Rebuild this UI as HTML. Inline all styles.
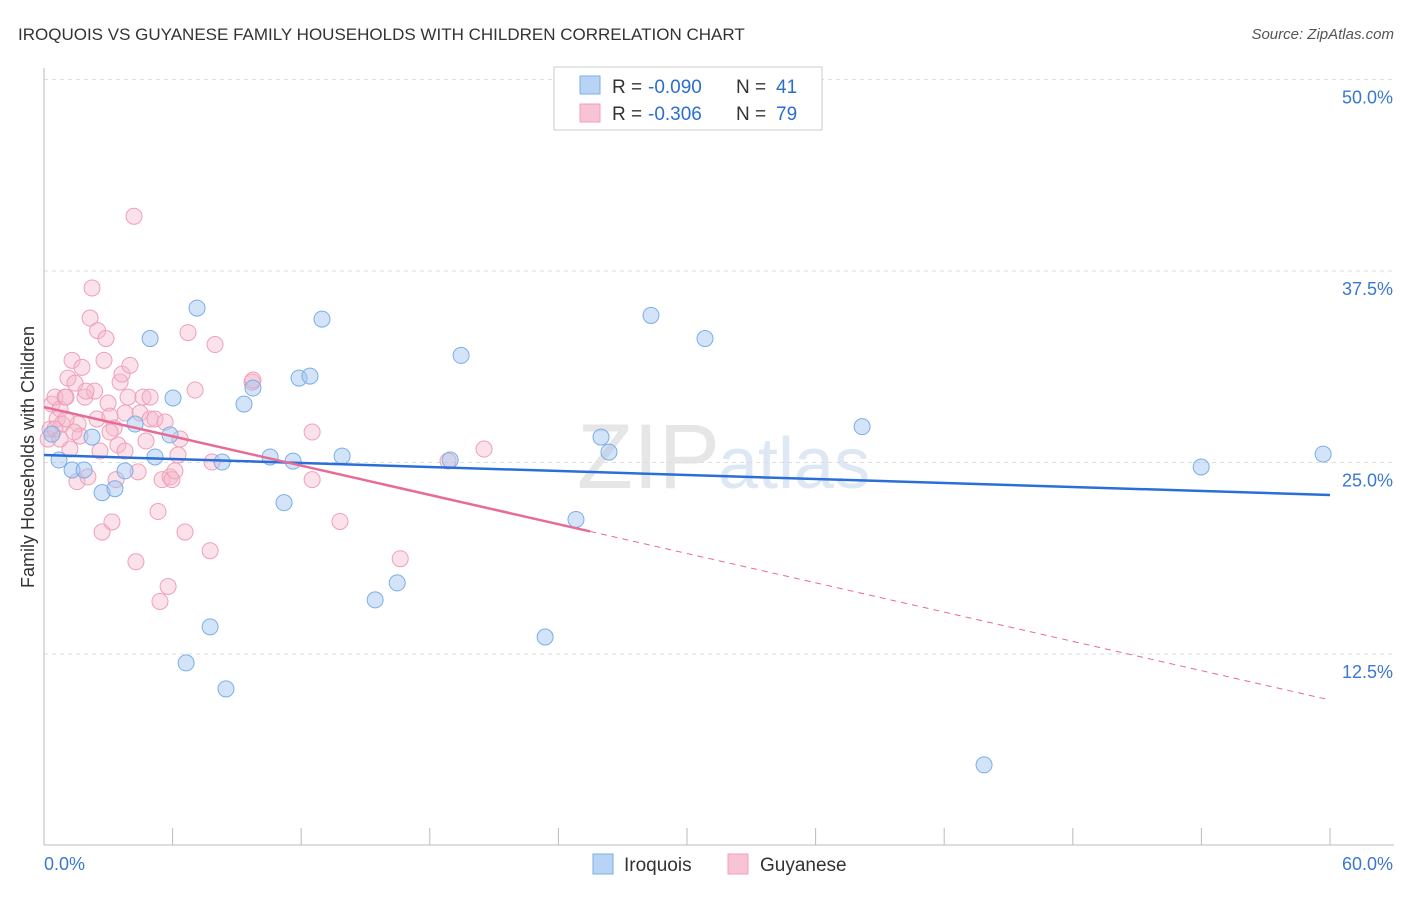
<!DOCTYPE html>
<html><head><meta charset="utf-8"><style>
body{margin:0;background:#fff;font-family:"Liberation Sans",sans-serif;}
svg text{font-family:"Liberation Sans",sans-serif;}
</style></head><body>
<svg id="chart" width="1406" height="892">
<text x="18" y="40" font-size="17" fill="#333">IROQUOIS VS GUYANESE FAMILY HOUSEHOLDS WITH CHILDREN CORRELATION CHART</text>
<text x="1394" y="39" font-size="15" fill="#555" text-anchor="end" font-style="italic">Source: ZipAtlas.com</text>
<text x="720" y="488" font-size="92" fill="#e6e6e6" text-anchor="end" font-family="Liberation Serif">ZIP</text>
<text x="718" y="488" font-size="72" fill="#dde8f4">atlas</text>
<text transform="translate(34,457) rotate(-90)" font-size="18" fill="#333" text-anchor="middle">Family Households with Children</text>
<g id="grid"></g><g id="pts"></g><g id="trend"></g>
<g>
<rect x="554" y="67" width="268" height="63" fill="#fff" stroke="#ccc"/>
<rect x="580" y="76" width="20" height="18" fill="#b8d4f4" stroke="#7aaee8"/>
<rect x="580" y="104" width="20" height="18" fill="#f8c4d4" stroke="#eea0b8"/>
<text x="612" y="93" font-size="19" fill="#333">R =</text>
<text x="648" y="93" font-size="19" fill="#2a6fd0">-0.090</text>
<text x="736" y="93" font-size="19" fill="#333">N =</text>
<text x="776" y="93" font-size="19" fill="#2a6fd0">41</text>
<text x="612" y="120" font-size="19" fill="#333">R =</text>
<text x="648" y="120" font-size="19" fill="#2a6fd0">-0.306</text>
<text x="736" y="120" font-size="19" fill="#333">N =</text>
<text x="776" y="120" font-size="19" fill="#2a6fd0">79</text>
</g>
<g>
<rect x="593" y="854" width="20" height="20" fill="#b8d4f4" stroke="#7aaee8"/>
<text x="624" y="871" font-size="19" fill="#333">Iroquois</text>
<rect x="728" y="854" width="20" height="20" fill="#f8c4d4" stroke="#eea0b8"/>
<text x="760" y="871" font-size="19" fill="#333">Guyanese</text>
</g>
</svg>
<script>
const yTicks=[12.5,25,37.5,50];
const yTickLabels=["12.5%","25.0%","37.5%","50.0%"];
const xTicks=[0,6,12,18,24,30,36,42,48,54,60];
const iroqX=[0.37,0.7,1.31,1.87,2.24,2.71,3.31,3.78,4.25,4.95,5.18,5.88,6.02,6.63,7.14,7.75,8.31,8.49,9.33,9.75,10.55,11.2,11.62,11.9,12.41,12.97,13.91,15.45,16.48,18.95,19.46,23.38,24.82,25.99,26.36,28.32,30.84,38.17,43.86,53.99,59.68];
const iroqY=[26.85,25.16,24.51,24.51,26.66,23.03,23.29,24.45,27.51,33.09,25.36,26.8,29.21,11.92,35.08,14.27,25.03,10.22,28.81,29.86,25.36,22.38,25.09,30.51,30.64,34.36,25.42,16.03,17.14,25.16,31.99,13.61,21.28,26.66,25.68,34.6,33.09,27.34,5.26,24.71,25.55];
const guyX=[0.19,0.28,0.37,0.51,0.61,0.75,0.84,0.98,1.12,1.21,1.31,1.45,1.54,1.59,1.68,1.77,1.91,2.05,2.15,2.24,2.36,2.47,2.5,2.61,2.71,2.8,2.89,2.99,3.08,3.17,3.27,3.36,3.45,3.55,3.64,3.78,3.92,4.01,4.2,4.29,4.39,4.48,4.62,4.76,4.95,5.18,5.32,5.41,5.51,5.65,5.79,5.88,5.97,6.11,6.25,6.35,6.58,6.72,7.05,7.75,7.84,7.98,9.71,9.75,12.51,12.51,13.81,16.62,18.85,20.53,0.51,0.75,1.03,1.40,1.96,3.08,3.78,4.95,1.03];
const guyY=[26.53,27.18,28.81,29.27,27.84,28.49,27.51,29.27,30.51,25.88,31.67,30.18,23.75,27.51,26.73,31.21,29.27,24.06,34.43,36.39,29.66,27.84,33.61,25.75,20.46,31.67,33.09,28.88,28.03,21.12,27.25,23.88,26.14,30.25,30.77,25.75,29.27,31.34,41.07,18.52,24.39,28.23,29.27,26.4,27.84,27.84,21.8,15.93,23.88,27.64,16.91,24.06,23.88,24.45,25.49,26.53,20.46,33.48,29.73,19.24,25.03,32.7,30.25,30.38,26.99,23.88,21.15,18.72,25.1,25.88,27.19,26.53,27.84,26.99,29.66,26.99,28.23,29.27,29.27];
const iroqTrend=[25.49,22.88];
const guyTrend=[28.62,9.5];
const guySolidEnd=20.5;
const NS='http://www.w3.org/2000/svg';
const X=v=>44+v/60*1286, Y=v=>845.5-v/12.5*191.5;
function mk(t,a,p){const e=document.createElementNS(NS,t);for(const k in a)e.setAttribute(k,a[k]);p.appendChild(e);return e;}
const grid=document.getElementById('grid');
yTicks.forEach((t,i)=>{
 const l=mk('line',{x1:44,x2:1394,y1:Y(t),y2:Y(t),stroke:'#ddd','stroke-dasharray':'4,4'},grid);
 
 
 const tx=mk('text',{x:1393,y:Y(t)+24,'font-size':18,fill:'#3a78d0','text-anchor':'end'},grid);tx.textContent=yTickLabels[i];
 
 
});
mk('line',{x1:44,x2:44,y1:68,y2:845,stroke:'#bbb'},grid);
mk('line',{x1:44,x2:1394,y1:845,y2:845,stroke:'#bbb'},grid);
xTicks.forEach(t=>{const l=mk('line',{x1:X(t),x2:X(t),y1:828,y2:845,stroke:'#bbb'},grid);
 
 });
let a=mk('text',{x:44,y:870,'font-size':18,fill:'#3a78d0'},grid);a.textContent='0.0%';
a=mk('text',{x:1393,y:870,'font-size':18,fill:'#3a78d0','text-anchor':'end'},grid);a.textContent='60.0%';
const pts=document.getElementById('pts');
guyX.forEach((x,i)=>{const c=mk('circle',{cx:X(x),cy:Y(guyY[i]),r:8,fill:'rgba(246,182,202,0.4)',stroke:'#eea0b8','stroke-width':1},pts);
 
 });
iroqX.forEach((x,i)=>{const c=mk('circle',{cx:X(x),cy:Y(iroqY[i]),r:8,fill:'rgba(160,196,240,0.45)',stroke:'#7aaee8','stroke-width':1},pts);
 
 });
const tr=document.getElementById('trend');
let l=mk('line',{x1:X(0),y1:Y(iroqTrend[0]),x2:X(60),y2:Y(iroqTrend[1]),stroke:'#2a6fd8','stroke-width':2.5},tr);


const xe=(guyTrend[0]-guySolidEnd)/(guyTrend[0]-guyTrend[1])*60;
l=mk('line',{x1:X(0),y1:Y(guyTrend[0]),x2:X(xe),y2:Y(guySolidEnd),stroke:'#e86a96','stroke-width':2.5},tr);


l=mk('line',{x1:X(xe),y1:Y(guySolidEnd),x2:X(60),y2:Y(guyTrend[1]),stroke:'#e86a96','stroke-width':1,'stroke-dasharray':'6,5'},tr);


</script>
</body></html>
